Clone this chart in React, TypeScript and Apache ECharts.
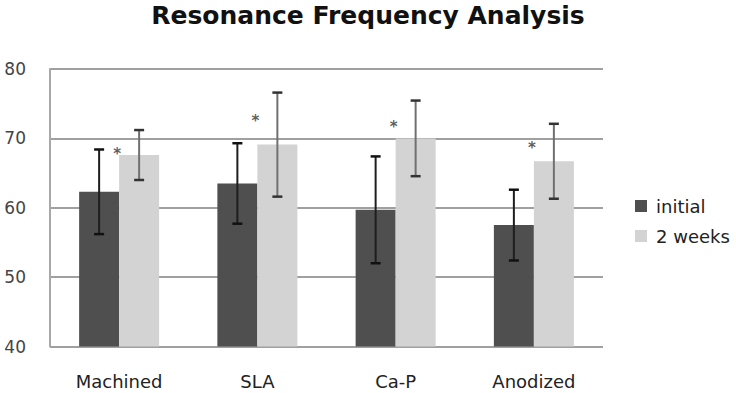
import React, { useEffect, useRef } from "react";
import * as echarts from "echarts";

const categories = ["Machined", "SLA", "Ca-P", "Anodized"];
const seriesNames = ["initial", "2 weeks"];
const initialMeans = [62.3, 63.5, 59.7, 57.5];
const initialErr = [6.1, 5.8, 7.7, 5.1];
const weeksMeans = [67.6, 69.1, 70.0, 66.7];
const weeksErr = [3.6, 7.5, 5.45, 5.4];
const starValues = [68.5, 73.2, 72.4, 69.4];
const yTicks = [40, 50, 60, 70, 80];

const BAR_W = 40;

function errorSeries(name: string, means: number[], errs: number[], side: number, lineColor: string, capColor: string) {
  const data = means.map((m, i) => [i, m - errs[i], m + errs[i]]);
  return {
    type: "custom",
    name: name + "-err",
    silent: true,
    z: 10,
    data,
    encode: { x: 0, y: [1, 2] },
    renderItem: (params: any, api: any) => {
      const idx = api.value(0);
      const lo = api.coord([idx, api.value(1)]);
      const hi = api.coord([idx, api.value(2)]);
      const x = lo[0] + side * (BAR_W / 2);
      const cap = 5;
      return {
        type: "group",
        children: [
          { type: "line", shape: { x1: x, y1: hi[1], x2: x, y2: lo[1] }, style: { stroke: lineColor, lineWidth: 2 } },
          { type: "line", shape: { x1: x - cap, y1: hi[1], x2: x + cap, y2: hi[1] }, style: { stroke: capColor, lineWidth: 2.5 } },
          { type: "line", shape: { x1: x - cap, y1: lo[1], x2: x + cap, y2: lo[1] }, style: { stroke: capColor, lineWidth: 2.5 } },
        ],
      };
    },
  };
}

export default function App() {
  const ref = useRef<HTMLDivElement>(null);
  useEffect(() => {
    if (!ref.current) return;
    const chart = echarts.init(ref.current, null, { renderer: "svg" });
    const font = "DejaVu Sans";
    chart.setOption({
      animation: false,
      backgroundColor: "#ffffff",
      title: {
        text: "Resonance Frequency Analysis",
        left: "center",
        top: 3,
        padding: 0,
        textStyle: { fontFamily: font, fontWeight: "bold", fontSize: 25, color: "#111" },
      },
      legend: {
        data: seriesNames,
        orient: "vertical",
        left: 630,
        top: 192,
        icon: "rect",
        itemWidth: 12,
        itemHeight: 12,
        itemGap: 12,
        textStyle: { fontFamily: font, fontSize: 18, color: "#222", padding: [0, 0, 0, 4] },
      },
      grid: { left: 50, right: 133, top: 69, bottom: 46.5, outerBoundsMode: "none", containLabel: false },
      xAxis: {
        type: "category",
        data: categories,
        axisLine: { show: false },
        axisTick: { show: false },
        axisLabel: { margin: 26, fontFamily: font, fontSize: 18, color: "#222" },
      },
      yAxis: {
        type: "value",
        min: yTicks[0],
        max: yTicks[yTicks.length - 1],
        interval: 10,
        axisLine: { show: true, lineStyle: { color: "#a8a8a8", width: 2 } },
        axisTick: { show: false },
        axisLabel: { margin: 24, fontFamily: font, fontSize: 17, color: "#444" },
        splitLine: { show: true, lineStyle: { color: "#a0a0a0", width: 2 } },
      },
      series: [
        {
          type: "bar",
          name: seriesNames[0],
          data: initialMeans,
          barWidth: BAR_W,
          barGap: "0%",
          itemStyle: { color: "#4f4f4f" },
        },
        {
          type: "bar",
          name: seriesNames[1],
          data: weeksMeans,
          barWidth: BAR_W,
          barGap: "0%",
          itemStyle: { color: "#d3d3d3" },
        },
        errorSeries(seriesNames[0], initialMeans, initialErr, -1, "#1e1e1e", "#111"),
        errorSeries(seriesNames[1], weeksMeans, weeksErr, 1, "#707070", "#333"),
        {
          type: "scatter",
          name: "sig",
          symbolSize: 1,
          itemStyle: { color: "rgba(0,0,0,0)" },
          data: starValues.map((v, i) => [i, v]),
          z: 11,
          label: {
            show: true,
            position: "inside",
            formatter: "*",
            offset: [-2, 5],
            fontFamily: font,
            fontSize: 15,
            fontWeight: "bold",
            color: "#333",
          },
        },
      ],
    });
    return () => chart.dispose();
  }, []);
  return <div ref={ref} style={{ position: "fixed", left: 0, top: 0, width: 736, height: 393 }} />;
}
